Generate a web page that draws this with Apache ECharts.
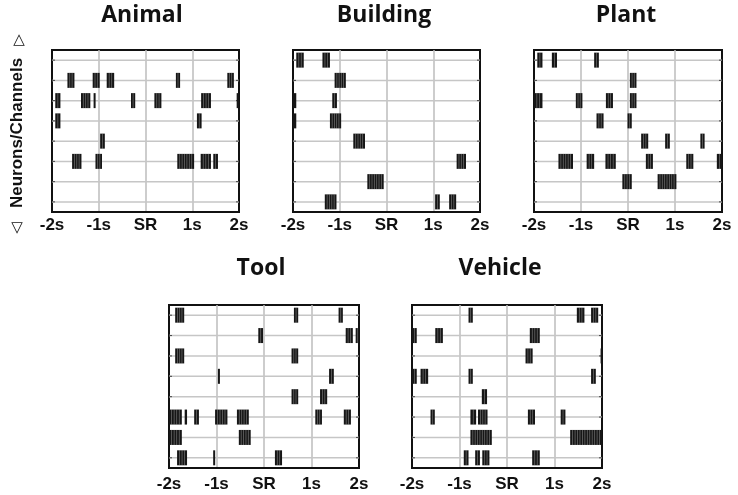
<!DOCTYPE html>
<html>
	<head>
		<meta charset="utf-8">
		<title>Raster</title>
		<script src="https://cdn.jsdelivr.net/npm/echarts@6.0.0/dist/echarts.min.js"></script>
		<style>body { margin: 0; background: #fff; }</style>
	</head>
	<body>
		<div id="main" style="width: 738px;height:495px;"></div>
		<script type="text/javascript">
			var myChart = echarts.init(document.getElementById('main'));
			window.myChart = myChart;

			var panelNames = ['Animal', 'Building', 'Plant', 'Tool', 'Vehicle'];
			var tickLabels = ['-2s', '-1s', 'SR', '1s', '2s'];
			var rowIds = [1, 2, 3, 4, 5, 6, 7, 8];

			// bursts: [row, start (s), end (s), number of spikes]
			var animalBursts = [
				[2, -1.67, -1.52, 3], [2, -1.13, -0.98, 3], [2, -0.83, -0.67, 3], [2, 0.65, 0.74, 2], [2, 1.75, 1.89, 3],
				[3, -1.93, -1.82, 2], [3, -1.38, -1.18, 4], [3, -1.11, -1.07, 1], [3, -0.31, -0.22, 2], [3, 0.19, 0.34, 3], [3, 1.19, 1.40, 4], [3, 1.95, 2.0, 1],
				[4, -1.93, -1.82, 2], [4, 1.10, 1.20, 2],
				[5, -0.97, -0.87, 2],
				[6, -1.57, -1.37, 4], [6, -1.07, -0.93, 3], [6, 0.68, 1.04, 7], [6, 1.18, 1.40, 4], [6, 1.45, 1.55, 2]
			];
			var buildingBursts = [
				[1, -1.93, -1.77, 3], [1, -1.37, -1.21, 3],
				[2, -1.11, -0.87, 5],
				[3, -2.0, -1.93, 1], [3, -1.16, -1.06, 2],
				[4, -2.0, -1.93, 1], [4, -1.21, -0.97, 5],
				[5, -0.71, -0.46, 5],
				[6, 1.50, 1.70, 4],
				[7, -0.41, -0.06, 7],
				[8, -1.32, -1.07, 5], [8, 1.04, 1.14, 2], [8, 1.34, 1.49, 3]
			];
			var plantBursts = [
				[1, -1.93, -1.82, 2], [1, -1.62, -1.51, 2], [1, -0.72, -0.62, 2],
				[2, 0.04, 0.18, 3],
				[3, -2.0, -1.82, 3], [3, -1.11, -0.97, 3], [3, -0.47, -0.32, 3], [3, 0.04, 0.18, 3],
				[4, -0.67, -0.52, 3], [4, -0.01, 0.08, 2],
				[5, 0.28, 0.43, 3], [5, 0.79, 0.89, 2], [5, 1.54, 1.63, 2],
				[6, -1.48, -1.17, 6], [6, -0.88, -0.72, 3], [6, -0.48, -0.26, 4], [6, 0.38, 0.53, 3], [6, 1.24, 1.39, 3], [6, 1.89, 2.0, 2],
				[7, -0.12, 0.08, 4], [7, 0.63, 1.03, 8]
			];
			var toolBursts = [
				[1, -1.87, -1.68, 4], [1, 0.63, 0.72, 2], [1, 1.57, 1.66, 2],
				[2, -0.12, -0.02, 2], [2, 1.72, 1.87, 3], [2, 1.93, 2.0, 2],
				[3, -1.87, -1.68, 4], [3, 0.58, 0.72, 3],
				[4, -0.97, -0.93, 1], [4, 1.37, 1.47, 2],
				[5, 0.58, 0.72, 3], [5, 1.18, 1.33, 3],
				[6, -2.0, -1.73, 5], [6, -1.67, -1.62, 1], [6, -1.47, -1.37, 2], [6, -1.03, -0.77, 5], [6, -0.57, -0.32, 5], [6, 1.08, 1.22, 3], [6, 1.68, 1.83, 3],
				[7, -2.0, -1.73, 5], [7, -0.53, -0.28, 5],
				[8, -1.83, -1.62, 4], [8, -1.07, -1.03, 1], [8, 0.23, 0.38, 3]
			];
			var vehicleBursts = [
				[1, -0.81, -0.72, 2], [1, 1.47, 1.63, 3], [1, 1.77, 1.92, 3],
				[2, -2.0, -1.90, 2], [2, -1.51, -1.35, 3], [2, 0.48, 0.69, 4],
				[3, 0.39, 0.54, 3], [3, 1.97, 2.0, 1],
				[4, -2.0, -1.90, 2], [4, -1.82, -1.66, 3], [4, -0.81, -0.72, 2], [4, 1.77, 1.87, 2],
				[5, -0.53, -0.42, 2],
				[6, -1.61, -1.52, 2], [6, -0.77, -0.65, 2], [6, -0.61, -0.41, 4], [6, 0.44, 0.59, 3], [6, 1.13, 1.23, 2],
				[7, -0.77, -0.32, 9], [7, 1.33, 2.0, 13],
				[8, -0.91, -0.81, 2], [8, -0.67, -0.57, 2], [8, -0.52, -0.37, 3], [8, 0.53, 0.69, 3]
			];

			var panelData = [animalBursts, buildingBursts, plantBursts, toolBursts, vehicleBursts];

			// panel boxes, label margins and title centres (pixels)
			var boxes = [
				{left: 52, top: 50, width: 187, height: 162, margin: 5},
				{left: 293, top: 50, width: 187, height: 162, margin: 5},
				{left: 534, top: 50, width: 188, height: 162, margin: 5},
				{left: 169, top: 305, width: 190, height: 163, margin: 8},
				{left: 412, top: 305, width: 190, height: 163, margin: 8}
			];
			var titlePos = [[142, 15], [384, 15], [626, 15], [261, 268], [500, 268]];

			function renderRow(params, api) {
				var a = api.coord([-2, api.value(0)]);
				var b = api.coord([2, api.value(0)]);
				return {
					type: 'group',
					children: [
						{type: 'line', shape: {x1: a[0], y1: a[1], x2: b[0], y2: b[1]}, style: {stroke: '#c6c6c6', lineWidth: 1.5}},
						{type: 'line', shape: {x1: a[0], y1: a[1], x2: a[0] + 3, y2: a[1]}, style: {stroke: '#444', lineWidth: 1}},
						{type: 'line', shape: {x1: b[0] - 3, y1: b[1], x2: b[0], y2: b[1]}, style: {stroke: '#444', lineWidth: 1}}
					]
				};
			}

			function renderBurst(params, api) {
				var p0 = api.coord([api.value(1), api.value(0)]);
				var p1 = api.coord([api.value(2), api.value(0)]);
				var n = api.value(3);
				var w = Math.max(p1[0] - p0[0], 2);
				var h = 15;
				var children = [{
					type: 'rect',
					shape: {x: p0[0], y: p0[1] - h / 2, width: w, height: h},
					style: {fill: '#161616'}
				}];
				// thin light gaps between single spikes
				for (var k = 1; k < n; k++) {
					var x = p0[0] + w * k / n;
					children.push({
						type: 'rect',
						shape: {x: x - 0.4, y: p0[1] - h / 2, width: 0.8, height: h},
						style: {fill: 'rgba(255,255,255,0.35)'}
					});
				}
				return {type: 'group', children: children};
			}

			var grids = [], xAxes = [], yAxes = [], series = [], graphics = [];
			panelNames.forEach(function (name, i) {
				var b = boxes[i];
				grids.push({
					left: b.left, top: b.top, width: b.width, height: b.height,
					show: true, borderColor: '#111', borderWidth: 2, backgroundColor: '#fff'
				});
				xAxes.push({
					gridIndex: i, type: 'value', min: -2, max: 2, interval: 1,
					position: 'bottom',
					axisLine: {show: true, onZero: false, lineStyle: {color: '#111', width: 2}},
					axisTick: {show: false},
					splitLine: {show: true, showMinLine: false, showMaxLine: false, lineStyle: {color: '#bdbdbd', width: 1.5}},
					axisLabel: {
						margin: b.margin, color: '#111', fontSize: 17, fontWeight: 'bold',
						fontFamily: 'Liberation Sans, Arial',
						formatter: function (v) { return tickLabels[Math.round(v) + 2]; }
					}
				});
				yAxes.push({
					gridIndex: i, type: 'value', min: 0.5, max: 8.5, inverse: true,
					axisLine: {show: true, onZero: false, lineStyle: {color: '#111', width: 2}},
					axisTick: {show: false},
					axisLabel: {show: false}, splitLine: {show: false}
				});
				series.push({
					type: 'custom', xAxisIndex: i, yAxisIndex: i,
					renderItem: renderRow, encode: {y: 0},
					data: rowIds.map(function (r) { return [r]; }),
					silent: true, z: 1
				});
				series.push({
					type: 'custom', xAxisIndex: i, yAxisIndex: i,
					renderItem: renderBurst, encode: {x: [1, 2], y: 0},
					data: panelData[i], z: 2
				});
				graphics.push({
					type: 'text', x: titlePos[i][0], y: titlePos[i][1],
					style: {
						text: name, textAlign: 'center', textVerticalAlign: 'middle',
						align: 'center', verticalAlign: 'middle',
						font: 'bold 23px "Open Sans"', fill: '#111'
					}
				});
			});

			// y axis name of the first panel
			graphics.push({
				type: 'text', x: 17, y: 133, rotation: Math.PI / 2,
				style: {
					text: 'Neurons/Channels', textAlign: 'center', textVerticalAlign: 'middle',
					align: 'center', verticalAlign: 'middle',
					font: 'bold 17px "Liberation Sans", Arial', fill: '#111'
				}
			});
			graphics.push({
				type: 'text', x: 19, y: 40,
				style: {text: '\u25B3', align: 'center', verticalAlign: 'middle', textAlign: 'center', textVerticalAlign: 'middle', font: 'bold 15px "DejaVu Sans"', fill: '#111'}
			});
			graphics.push({
				type: 'text', x: 17, y: 228,
				style: {text: '\u25BD', align: 'center', verticalAlign: 'middle', textAlign: 'center', textVerticalAlign: 'middle', font: 'bold 15px "DejaVu Sans"', fill: '#111'}
			});

			var option = {
				backgroundColor: '#fff',
				animation: false,
				grid: grids,
				xAxis: xAxes,
				yAxis: yAxes,
				series: series,
				graphic: graphics
			};
			myChart.setOption(option);
		</script>
	</body>
</html>
